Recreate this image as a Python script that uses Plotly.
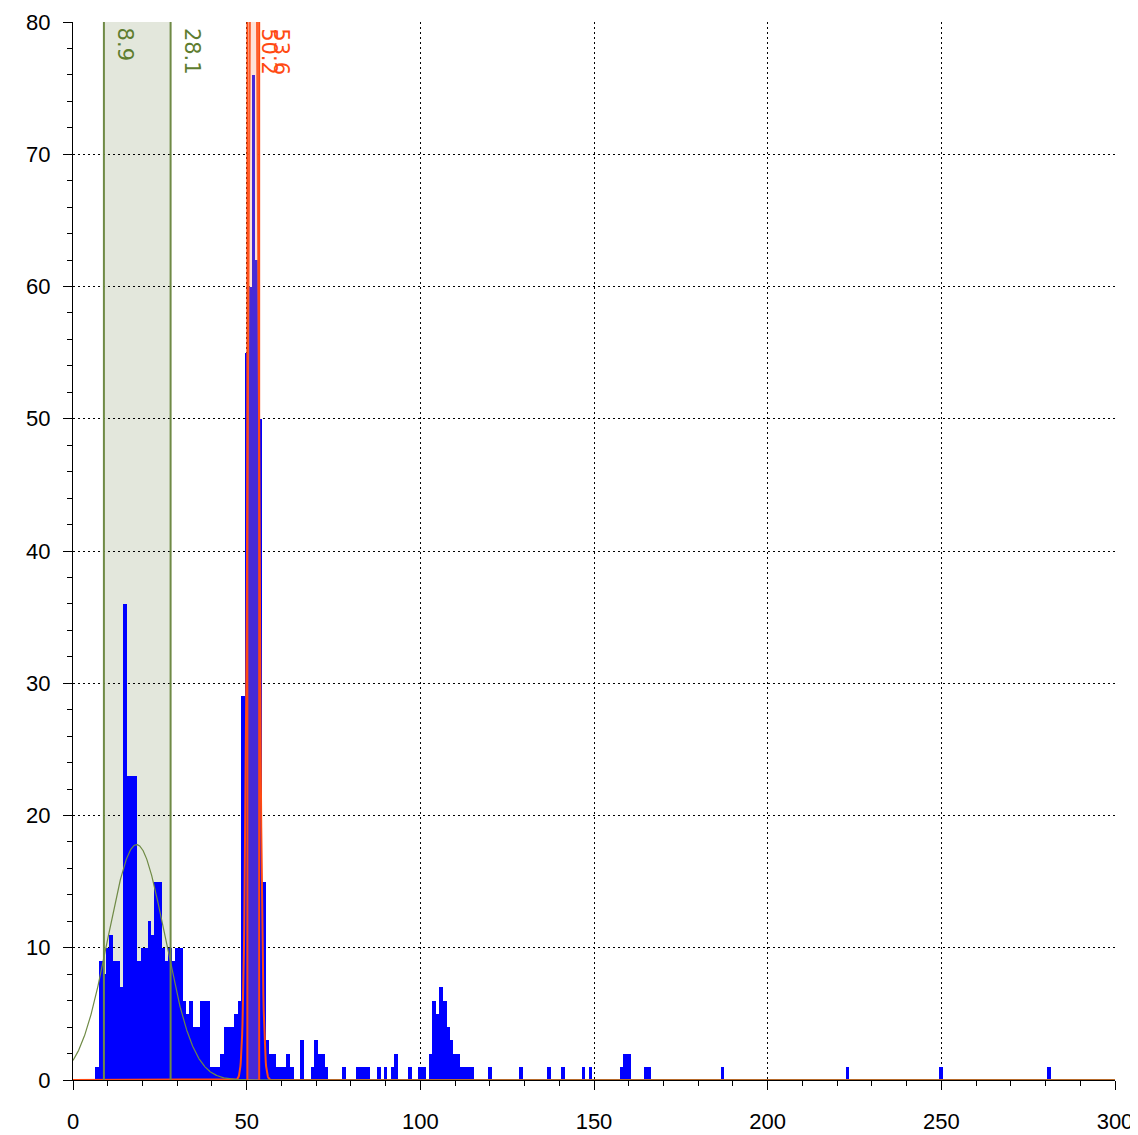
import numpy as np
import plotly.graph_objects as go

# ---- histogram data (bin centre -> count) ----
bin_centers = [7, 8, 9, 10, 11, 12, 13, 14, 15, 16, 17, 18, 19, 20, 21, 22, 23, 24, 25,
               26, 27, 28, 29, 30, 31, 32, 33, 34, 35, 36, 37, 38, 39, 40, 41, 42, 43,
               44, 45, 46, 47, 48, 49, 50, 51, 52, 53, 54, 55, 56, 57, 58, 59, 60, 61,
               62, 63, 66, 69, 70, 71, 72, 73, 78, 82, 83, 84, 85, 88, 90, 92, 93, 97,
               100, 101, 103, 104, 105, 106, 107, 108, 109, 110, 111, 112, 113, 114,
               115, 120, 129, 137, 141, 147, 149, 158, 159, 160, 165, 166, 187, 223,
               250, 281]
counts = [1, 9, 8, 10, 11, 9, 9, 7, 36, 23, 23, 23, 9, 10, 10, 12, 11, 15, 15,
          10, 9, 10, 9, 10, 10, 6, 5, 6, 4, 4, 6, 6, 6, 1, 1, 1, 2,
          4, 4, 4, 5, 6, 29, 55, 60, 76, 62, 50, 15, 3, 2, 2, 1, 1, 1,
          2, 1, 3, 1, 3, 2, 2, 1, 1, 1, 1, 1, 1, 1, 1, 1, 2, 1,
          1, 1, 2, 6, 5, 7, 6, 4, 3, 2, 2, 1, 1, 1,
          1, 1, 1, 1, 1, 1, 1, 1, 2, 2, 1, 1, 1, 1,
          1, 1]

# ---- marked ranges ----
green_range = [8.9, 28.1]
green_labels = ["8.9", "28.1"]
red_range = [50.2, 53.6]
red_labels = ["50.2", "53.6"]

# ---- fitted gaussian parameters ----
green_mu, green_sigma, green_amp = 18.3, 8.2, 17.8
red_mu, red_sigma, red_amp = 51.9, 1.2, 120.0

GREEN = "#6f8a45"
GREEN_TXT = "#5e7d2f"
GREEN_FILL = "#e3e7dc"
RED = "#ff4a12"
RED_FILL = "rgba(255,150,110,0.28)"

xs = np.linspace(0, 300, 3001)
green_curve = green_amp * np.exp(-(xs - green_mu) ** 2 / (2 * green_sigma ** 2))
red_curve = red_amp * np.exp(-(xs - red_mu) ** 2 / (2 * red_sigma ** 2))

fig = go.Figure()
fig.add_trace(go.Bar(x=bin_centers, y=counts, width=1.08,
                     marker=dict(color="#0000ff", line=dict(width=0)),
                     showlegend=False, hoverinfo="x+y"))
fig.add_trace(go.Scatter(x=xs, y=red_curve, mode="lines",
                         line=dict(color=RED, width=2), showlegend=False,
                         hoverinfo="skip"))
fig.add_trace(go.Scatter(x=xs, y=green_curve, mode="lines",
                         line=dict(color=GREEN, width=1.2), showlegend=False,
                         hoverinfo="skip"))

shapes = []
shapes.append(dict(type="rect", xref="x", yref="y", x0=green_range[0], x1=green_range[1],
                   y0=0, y1=80, fillcolor=GREEN_FILL, line=dict(width=0), layer="below"))
for v in green_range:
    shapes.append(dict(type="line", xref="x", yref="y", x0=v, x1=v, y0=0, y1=80,
                       line=dict(color=GREEN, width=2), layer="above"))
shapes.append(dict(type="rect", xref="x", yref="y", x0=red_range[0], x1=red_range[1],
                   y0=0, y1=80, fillcolor=RED_FILL, line=dict(width=0), layer="above"))
for v in red_range:
    shapes.append(dict(type="line", xref="x", yref="y", x0=v, x1=v, y0=0, y1=80,
                       line=dict(color=RED, width=2), layer="above"))

label_font = "DejaVu Sans, Verdana, sans-serif"
annotations = []
for v, t in zip(green_range, green_labels):
    annotations.append(dict(x=v, y=80, xref="x", yref="y", text=t, textangle=90,
                            showarrow=False, xanchor="left", yanchor="top",
                            xshift=8, yshift=-4,
                            font=dict(family=label_font, size=21, color=GREEN_TXT)))
for v, t in zip(red_range, red_labels):
    annotations.append(dict(x=v, y=80, xref="x", yref="y", text=t, textangle=90,
                            showarrow=False, xanchor="left", yanchor="top",
                            xshift=8, yshift=-4,
                            font=dict(family=label_font, size=21, color=RED)))

axis_font = dict(family="Liberation Sans, Arial", size=22, color="#000000")
grid_dash = "2px,3px"

# the page body adds an 8px margin, so the figure is 8px smaller
fig.update_layout(
    width=1130, height=1127,
    margin=dict(l=65, r=23, t=14, b=55),
    paper_bgcolor="white", plot_bgcolor="white",
    bargap=0,
    shapes=shapes, annotations=annotations,
    xaxis=dict(range=[0, 300], tickmode="linear", tick0=0, dtick=50,
               automargin=False,
               showgrid=True, gridcolor="#000000", griddash=grid_dash, gridwidth=1,
               showline=True, linecolor="#000000", linewidth=1,
               ticks="outside", ticklen=9, tickcolor="#000000", tickwidth=1,
               minor=dict(tick0=0, dtick=10, ticks="outside", ticklen=5,
                          tickcolor="#000000", tickwidth=1, showgrid=False),
               zeroline=False, tickfont=axis_font, ticklabelstandoff=13),
    yaxis=dict(range=[0, 80], tickmode="linear", tick0=0, dtick=10,
               automargin=False,
               showgrid=True, gridcolor="#000000", griddash=grid_dash, gridwidth=1,
               showline=True, linecolor="#000000", linewidth=1,
               ticks="outside", ticklen=9, tickcolor="#000000", tickwidth=1,
               minor=dict(tick0=0, dtick=2, ticks="outside", ticklen=5,
                          tickcolor="#000000", tickwidth=1, showgrid=False),
               zeroline=False, tickfont=axis_font, ticklabelstandoff=8),
)

fig.write_html("out.html")
